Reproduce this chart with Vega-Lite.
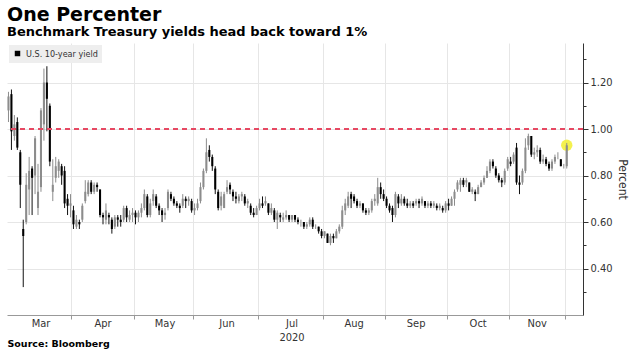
{
  "$schema": "https://vega.github.io/schema/vega-lite/v6.json",
  "width": 576,
  "height": 272,
  "autosize": {"type": "none"},
  "padding": {"left": 7, "top": 43, "right": 48, "bottom": 37},
  "background": "white",
  "config": {"view": {"stroke": null}, "font": "DejaVu Sans"},
  "title": {
    "text": "One Percenter",
    "subtitle": "Benchmark Treasury yields head back toward 1%",
    "anchor": "start",
    "frame": "group",
    "font": "DejaVu Sans",
    "fontSize": 19,
    "fontWeight": "bold",
    "color": "#000000",
    "subtitleFont": "DejaVu Sans",
    "subtitleFontSize": 13,
    "subtitleFontWeight": "bold",
    "subtitleColor": "#000000",
    "subtitlePadding": 1,
    "offset": 4
  },
  "data": {
    "values": [
      {"date": "2020-03-02", "open": 1.08, "high": 1.16, "low": 1.03, "close": 1.14},
      {"date": "2020-03-03", "open": 1.15, "high": 1.17, "low": 0.91, "close": 0.99},
      {"date": "2020-03-04", "open": 0.97, "high": 1.06, "low": 0.95, "close": 1.02},
      {"date": "2020-03-05", "open": 1.03, "high": 1.05, "low": 0.91, "close": 0.92},
      {"date": "2020-03-06", "open": 0.90, "high": 0.91, "low": 0.66, "close": 0.76},
      {"date": "2020-03-09", "open": 0.57, "high": 0.61, "low": 0.32, "close": 0.54},
      {"date": "2020-03-10", "open": 0.60, "high": 0.81, "low": 0.59, "close": 0.76},
      {"date": "2020-03-11", "open": 0.74, "high": 0.88, "low": 0.63, "close": 0.82},
      {"date": "2020-03-12", "open": 0.83, "high": 0.84, "low": 0.63, "close": 0.79},
      {"date": "2020-03-13", "open": 0.80, "high": 0.97, "low": 0.72, "close": 0.96},
      {"date": "2020-03-16", "open": 0.66, "high": 0.85, "low": 0.63, "close": 0.73},
      {"date": "2020-03-17", "open": 0.75, "high": 1.09, "low": 0.73, "close": 1.08},
      {"date": "2020-03-18", "open": 1.02, "high": 1.26, "low": 0.95, "close": 1.20},
      {"date": "2020-03-19", "open": 1.20, "high": 1.27, "low": 0.99, "close": 1.13},
      {"date": "2020-03-20", "open": 1.10, "high": 1.11, "low": 0.84, "close": 0.86},
      {"date": "2020-03-23", "open": 0.73, "high": 0.87, "low": 0.69, "close": 0.76},
      {"date": "2020-03-24", "open": 0.79, "high": 0.88, "low": 0.77, "close": 0.84},
      {"date": "2020-03-25", "open": 0.82, "high": 0.87, "low": 0.79, "close": 0.86},
      {"date": "2020-03-26", "open": 0.84, "high": 0.85, "low": 0.76, "close": 0.80},
      {"date": "2020-03-27", "open": 0.82, "high": 0.84, "low": 0.66, "close": 0.68},
      {"date": "2020-03-30", "open": 0.70, "high": 0.72, "low": 0.63, "close": 0.67},
      {"date": "2020-03-31", "open": 0.67, "high": 0.72, "low": 0.62, "close": 0.68},
      {"date": "2020-04-01", "open": 0.65, "high": 0.67, "low": 0.57, "close": 0.59},
      {"date": "2020-04-02", "open": 0.58, "high": 0.63, "low": 0.57, "close": 0.61},
      {"date": "2020-04-03", "open": 0.60, "high": 0.61, "low": 0.57, "close": 0.59},
      {"date": "2020-04-06", "open": 0.61, "high": 0.68, "low": 0.60, "close": 0.67},
      {"date": "2020-04-07", "open": 0.69, "high": 0.78, "low": 0.68, "close": 0.73},
      {"date": "2020-04-08", "open": 0.72, "high": 0.78, "low": 0.71, "close": 0.77},
      {"date": "2020-04-09", "open": 0.77, "high": 0.78, "low": 0.72, "close": 0.73},
      {"date": "2020-04-13", "open": 0.73, "high": 0.77, "low": 0.72, "close": 0.76},
      {"date": "2020-04-14", "open": 0.76, "high": 0.77, "low": 0.73, "close": 0.75},
      {"date": "2020-04-15", "open": 0.74, "high": 0.74, "low": 0.62, "close": 0.63},
      {"date": "2020-04-16", "open": 0.63, "high": 0.64, "low": 0.59, "close": 0.62},
      {"date": "2020-04-17", "open": 0.61, "high": 0.68, "low": 0.59, "close": 0.65},
      {"date": "2020-04-20", "open": 0.63, "high": 0.64, "low": 0.59, "close": 0.62},
      {"date": "2020-04-21", "open": 0.61, "high": 0.62, "low": 0.55, "close": 0.57},
      {"date": "2020-04-22", "open": 0.58, "high": 0.63, "low": 0.57, "close": 0.62},
      {"date": "2020-04-23", "open": 0.62, "high": 0.63, "low": 0.58, "close": 0.61},
      {"date": "2020-04-24", "open": 0.61, "high": 0.63, "low": 0.58, "close": 0.60},
      {"date": "2020-04-27", "open": 0.61, "high": 0.67, "low": 0.60, "close": 0.66},
      {"date": "2020-04-28", "open": 0.66, "high": 0.67, "low": 0.60, "close": 0.62},
      {"date": "2020-04-29", "open": 0.61, "high": 0.65, "low": 0.60, "close": 0.63},
      {"date": "2020-04-30", "open": 0.63, "high": 0.66, "low": 0.60, "close": 0.64},
      {"date": "2020-05-01", "open": 0.64, "high": 0.65, "low": 0.59, "close": 0.62},
      {"date": "2020-05-04", "open": 0.62, "high": 0.65, "low": 0.60, "close": 0.64},
      {"date": "2020-05-05", "open": 0.64, "high": 0.68, "low": 0.62, "close": 0.66},
      {"date": "2020-05-06", "open": 0.66, "high": 0.74, "low": 0.65, "close": 0.72},
      {"date": "2020-05-07", "open": 0.71, "high": 0.72, "low": 0.62, "close": 0.63},
      {"date": "2020-05-08", "open": 0.63, "high": 0.70, "low": 0.62, "close": 0.68},
      {"date": "2020-05-11", "open": 0.69, "high": 0.74, "low": 0.67, "close": 0.72},
      {"date": "2020-05-12", "open": 0.71, "high": 0.72, "low": 0.66, "close": 0.67},
      {"date": "2020-05-13", "open": 0.67, "high": 0.68, "low": 0.63, "close": 0.65},
      {"date": "2020-05-14", "open": 0.65, "high": 0.66, "low": 0.60, "close": 0.63},
      {"date": "2020-05-15", "open": 0.63, "high": 0.66, "low": 0.61, "close": 0.64},
      {"date": "2020-05-18", "open": 0.66, "high": 0.74, "low": 0.65, "close": 0.73},
      {"date": "2020-05-19", "open": 0.72, "high": 0.73, "low": 0.69, "close": 0.70},
      {"date": "2020-05-20", "open": 0.70, "high": 0.71, "low": 0.67, "close": 0.68},
      {"date": "2020-05-21", "open": 0.68, "high": 0.69, "low": 0.66, "close": 0.67},
      {"date": "2020-05-22", "open": 0.67, "high": 0.68, "low": 0.64, "close": 0.66},
      {"date": "2020-05-26", "open": 0.67, "high": 0.72, "low": 0.66, "close": 0.70},
      {"date": "2020-05-27", "open": 0.70, "high": 0.71, "low": 0.66, "close": 0.69},
      {"date": "2020-05-28", "open": 0.69, "high": 0.71, "low": 0.67, "close": 0.70},
      {"date": "2020-05-29", "open": 0.69, "high": 0.70, "low": 0.64, "close": 0.65},
      {"date": "2020-06-01", "open": 0.65, "high": 0.68, "low": 0.63, "close": 0.66},
      {"date": "2020-06-02", "open": 0.66, "high": 0.70, "low": 0.65, "close": 0.68},
      {"date": "2020-06-03", "open": 0.69, "high": 0.77, "low": 0.68, "close": 0.75},
      {"date": "2020-06-04", "open": 0.75, "high": 0.83, "low": 0.74, "close": 0.82},
      {"date": "2020-06-05", "open": 0.82, "high": 0.96, "low": 0.81, "close": 0.90},
      {"date": "2020-06-08", "open": 0.91, "high": 0.93, "low": 0.86, "close": 0.88},
      {"date": "2020-06-09", "open": 0.88, "high": 0.89, "low": 0.82, "close": 0.84},
      {"date": "2020-06-10", "open": 0.83, "high": 0.84, "low": 0.72, "close": 0.74},
      {"date": "2020-06-11", "open": 0.73, "high": 0.74, "low": 0.65, "close": 0.66},
      {"date": "2020-06-12", "open": 0.67, "high": 0.73, "low": 0.65, "close": 0.71},
      {"date": "2020-06-15", "open": 0.66, "high": 0.73, "low": 0.66, "close": 0.72},
      {"date": "2020-06-16", "open": 0.73, "high": 0.78, "low": 0.72, "close": 0.75},
      {"date": "2020-06-17", "open": 0.76, "high": 0.77, "low": 0.72, "close": 0.74},
      {"date": "2020-06-18", "open": 0.73, "high": 0.74, "low": 0.69, "close": 0.71},
      {"date": "2020-06-19", "open": 0.71, "high": 0.73, "low": 0.68, "close": 0.70},
      {"date": "2020-06-22", "open": 0.69, "high": 0.72, "low": 0.68, "close": 0.71},
      {"date": "2020-06-23", "open": 0.71, "high": 0.73, "low": 0.69, "close": 0.72},
      {"date": "2020-06-24", "open": 0.71, "high": 0.72, "low": 0.67, "close": 0.68},
      {"date": "2020-06-25", "open": 0.68, "high": 0.70, "low": 0.66, "close": 0.69},
      {"date": "2020-06-26", "open": 0.67, "high": 0.68, "low": 0.63, "close": 0.64},
      {"date": "2020-06-29", "open": 0.64, "high": 0.66, "low": 0.62, "close": 0.63},
      {"date": "2020-06-30", "open": 0.63, "high": 0.67, "low": 0.63, "close": 0.66},
      {"date": "2020-07-01", "open": 0.66, "high": 0.70, "low": 0.65, "close": 0.68},
      {"date": "2020-07-02", "open": 0.68, "high": 0.71, "low": 0.66, "close": 0.67},
      {"date": "2020-07-06", "open": 0.68, "high": 0.71, "low": 0.67, "close": 0.69},
      {"date": "2020-07-07", "open": 0.68, "high": 0.68, "low": 0.63, "close": 0.64},
      {"date": "2020-07-08", "open": 0.64, "high": 0.68, "low": 0.63, "close": 0.66},
      {"date": "2020-07-09", "open": 0.65, "high": 0.66, "low": 0.60, "close": 0.61},
      {"date": "2020-07-10", "open": 0.61, "high": 0.65, "low": 0.57, "close": 0.64},
      {"date": "2020-07-13", "open": 0.63, "high": 0.64, "low": 0.60, "close": 0.62},
      {"date": "2020-07-14", "open": 0.61, "high": 0.64, "low": 0.60, "close": 0.62},
      {"date": "2020-07-15", "open": 0.62, "high": 0.65, "low": 0.61, "close": 0.63},
      {"date": "2020-07-16", "open": 0.63, "high": 0.63, "low": 0.60, "close": 0.61},
      {"date": "2020-07-17", "open": 0.61, "high": 0.63, "low": 0.60, "close": 0.63},
      {"date": "2020-07-20", "open": 0.63, "high": 0.63, "low": 0.60, "close": 0.61},
      {"date": "2020-07-21", "open": 0.61, "high": 0.62, "low": 0.59, "close": 0.60},
      {"date": "2020-07-22", "open": 0.60, "high": 0.61, "low": 0.58, "close": 0.60},
      {"date": "2020-07-23", "open": 0.60, "high": 0.60, "low": 0.57, "close": 0.58},
      {"date": "2020-07-24", "open": 0.58, "high": 0.60, "low": 0.57, "close": 0.59},
      {"date": "2020-07-27", "open": 0.59, "high": 0.62, "low": 0.58, "close": 0.61},
      {"date": "2020-07-28", "open": 0.61, "high": 0.62, "low": 0.57, "close": 0.58},
      {"date": "2020-07-29", "open": 0.58, "high": 0.59, "low": 0.57, "close": 0.58},
      {"date": "2020-07-30", "open": 0.58, "high": 0.58, "low": 0.55, "close": 0.56},
      {"date": "2020-07-31", "open": 0.56, "high": 0.57, "low": 0.53, "close": 0.54},
      {"date": "2020-08-03", "open": 0.54, "high": 0.56, "low": 0.53, "close": 0.56},
      {"date": "2020-08-04", "open": 0.55, "high": 0.55, "low": 0.51, "close": 0.51},
      {"date": "2020-08-05", "open": 0.51, "high": 0.55, "low": 0.50, "close": 0.54},
      {"date": "2020-08-06", "open": 0.54, "high": 0.55, "low": 0.51, "close": 0.53},
      {"date": "2020-08-07", "open": 0.53, "high": 0.57, "low": 0.53, "close": 0.56},
      {"date": "2020-08-10", "open": 0.56, "high": 0.59, "low": 0.55, "close": 0.58},
      {"date": "2020-08-11", "open": 0.58, "high": 0.67, "low": 0.57, "close": 0.65},
      {"date": "2020-08-12", "open": 0.65, "high": 0.70, "low": 0.63, "close": 0.68},
      {"date": "2020-08-13", "open": 0.67, "high": 0.73, "low": 0.66, "close": 0.71},
      {"date": "2020-08-14", "open": 0.72, "high": 0.73, "low": 0.66, "close": 0.70},
      {"date": "2020-08-17", "open": 0.71, "high": 0.72, "low": 0.68, "close": 0.69},
      {"date": "2020-08-18", "open": 0.69, "high": 0.70, "low": 0.66, "close": 0.67},
      {"date": "2020-08-19", "open": 0.67, "high": 0.69, "low": 0.66, "close": 0.68},
      {"date": "2020-08-20", "open": 0.68, "high": 0.68, "low": 0.64, "close": 0.65},
      {"date": "2020-08-21", "open": 0.65, "high": 0.66, "low": 0.63, "close": 0.64},
      {"date": "2020-08-24", "open": 0.64, "high": 0.66, "low": 0.63, "close": 0.65},
      {"date": "2020-08-25", "open": 0.65, "high": 0.70, "low": 0.64, "close": 0.69},
      {"date": "2020-08-26", "open": 0.69, "high": 0.72, "low": 0.67, "close": 0.70},
      {"date": "2020-08-27", "open": 0.68, "high": 0.79, "low": 0.67, "close": 0.75},
      {"date": "2020-08-28", "open": 0.75, "high": 0.77, "low": 0.70, "close": 0.72},
      {"date": "2020-08-31", "open": 0.72, "high": 0.74, "low": 0.69, "close": 0.70},
      {"date": "2020-09-01", "open": 0.70, "high": 0.71, "low": 0.66, "close": 0.67},
      {"date": "2020-09-02", "open": 0.67, "high": 0.68, "low": 0.64, "close": 0.65},
      {"date": "2020-09-03", "open": 0.66, "high": 0.67, "low": 0.60, "close": 0.63},
      {"date": "2020-09-04", "open": 0.63, "high": 0.73, "low": 0.62, "close": 0.72},
      {"date": "2020-09-08", "open": 0.71, "high": 0.72, "low": 0.66, "close": 0.68},
      {"date": "2020-09-09", "open": 0.68, "high": 0.72, "low": 0.67, "close": 0.70},
      {"date": "2020-09-10", "open": 0.70, "high": 0.71, "low": 0.67, "close": 0.68},
      {"date": "2020-09-11", "open": 0.68, "high": 0.70, "low": 0.66, "close": 0.67},
      {"date": "2020-09-14", "open": 0.67, "high": 0.69, "low": 0.66, "close": 0.68},
      {"date": "2020-09-15", "open": 0.68, "high": 0.69, "low": 0.66, "close": 0.67},
      {"date": "2020-09-16", "open": 0.68, "high": 0.70, "low": 0.67, "close": 0.69},
      {"date": "2020-09-17", "open": 0.69, "high": 0.70, "low": 0.66, "close": 0.68},
      {"date": "2020-09-18", "open": 0.68, "high": 0.71, "low": 0.67, "close": 0.70},
      {"date": "2020-09-21", "open": 0.69, "high": 0.69, "low": 0.66, "close": 0.67},
      {"date": "2020-09-22", "open": 0.67, "high": 0.69, "low": 0.66, "close": 0.68},
      {"date": "2020-09-23", "open": 0.68, "high": 0.69, "low": 0.66, "close": 0.67},
      {"date": "2020-09-24", "open": 0.67, "high": 0.69, "low": 0.66, "close": 0.68},
      {"date": "2020-09-25", "open": 0.67, "high": 0.68, "low": 0.65, "close": 0.66},
      {"date": "2020-09-28", "open": 0.66, "high": 0.68, "low": 0.65, "close": 0.67},
      {"date": "2020-09-29", "open": 0.66, "high": 0.67, "low": 0.64, "close": 0.65},
      {"date": "2020-09-30", "open": 0.65, "high": 0.69, "low": 0.64, "close": 0.68},
      {"date": "2020-10-01", "open": 0.68, "high": 0.70, "low": 0.65, "close": 0.67},
      {"date": "2020-10-02", "open": 0.67, "high": 0.71, "low": 0.67, "close": 0.70},
      {"date": "2020-10-05", "open": 0.70, "high": 0.74, "low": 0.67, "close": 0.73},
      {"date": "2020-10-06", "open": 0.74, "high": 0.78, "low": 0.73, "close": 0.77},
      {"date": "2020-10-07", "open": 0.76, "high": 0.79, "low": 0.73, "close": 0.78},
      {"date": "2020-10-08", "open": 0.78, "high": 0.79, "low": 0.75, "close": 0.76},
      {"date": "2020-10-09", "open": 0.77, "high": 0.79, "low": 0.75, "close": 0.78},
      {"date": "2020-10-13", "open": 0.77, "high": 0.77, "low": 0.73, "close": 0.73},
      {"date": "2020-10-14", "open": 0.73, "high": 0.75, "low": 0.72, "close": 0.74},
      {"date": "2020-10-15", "open": 0.73, "high": 0.74, "low": 0.69, "close": 0.72},
      {"date": "2020-10-16", "open": 0.72, "high": 0.76, "low": 0.72, "close": 0.75},
      {"date": "2020-10-19", "open": 0.75, "high": 0.78, "low": 0.75, "close": 0.77},
      {"date": "2020-10-20", "open": 0.77, "high": 0.80, "low": 0.76, "close": 0.79},
      {"date": "2020-10-21", "open": 0.79, "high": 0.84, "low": 0.79, "close": 0.82},
      {"date": "2020-10-22", "open": 0.82, "high": 0.87, "low": 0.81, "close": 0.86},
      {"date": "2020-10-23", "open": 0.86, "high": 0.87, "low": 0.83, "close": 0.84},
      {"date": "2020-10-26", "open": 0.83, "high": 0.84, "low": 0.79, "close": 0.80},
      {"date": "2020-10-27", "open": 0.80, "high": 0.81, "low": 0.77, "close": 0.78},
      {"date": "2020-10-28", "open": 0.78, "high": 0.79, "low": 0.75, "close": 0.77},
      {"date": "2020-10-29", "open": 0.77, "high": 0.83, "low": 0.76, "close": 0.82},
      {"date": "2020-10-30", "open": 0.83, "high": 0.88, "low": 0.82, "close": 0.87},
      {"date": "2020-11-02", "open": 0.86, "high": 0.88, "low": 0.84, "close": 0.85},
      {"date": "2020-11-03", "open": 0.86, "high": 0.90, "low": 0.85, "close": 0.89},
      {"date": "2020-11-04", "open": 0.92, "high": 0.94, "low": 0.76, "close": 0.77},
      {"date": "2020-11-05", "open": 0.77, "high": 0.80, "low": 0.72, "close": 0.76},
      {"date": "2020-11-06", "open": 0.77, "high": 0.83, "low": 0.76, "close": 0.82},
      {"date": "2020-11-09", "open": 0.82, "high": 0.96, "low": 0.81, "close": 0.92},
      {"date": "2020-11-10", "open": 0.93, "high": 0.98, "low": 0.91, "close": 0.97},
      {"date": "2020-11-12", "open": 0.97, "high": 0.97, "low": 0.88, "close": 0.89},
      {"date": "2020-11-13", "open": 0.89, "high": 0.92, "low": 0.87, "close": 0.90},
      {"date": "2020-11-16", "open": 0.90, "high": 0.93, "low": 0.88, "close": 0.91},
      {"date": "2020-11-17", "open": 0.91, "high": 0.92, "low": 0.85, "close": 0.86},
      {"date": "2020-11-18", "open": 0.86, "high": 0.89, "low": 0.85, "close": 0.87},
      {"date": "2020-11-19", "open": 0.87, "high": 0.88, "low": 0.84, "close": 0.85},
      {"date": "2020-11-20", "open": 0.85, "high": 0.86, "low": 0.82, "close": 0.83},
      {"date": "2020-11-23", "open": 0.83, "high": 0.87, "low": 0.82, "close": 0.86},
      {"date": "2020-11-24", "open": 0.86, "high": 0.89, "low": 0.85, "close": 0.88},
      {"date": "2020-11-25", "open": 0.88, "high": 0.90, "low": 0.87, "close": 0.88},
      {"date": "2020-11-27", "open": 0.87, "high": 0.87, "low": 0.84, "close": 0.84},
      {"date": "2020-11-30", "open": 0.84, "high": 0.85, "low": 0.83, "close": 0.84},
      {"date": "2020-12-01", "open": 0.84, "high": 0.94, "low": 0.83, "close": 0.93}
    ]
  },
  "resolve": {"axis": {"x": "independent", "y": "independent"}},
  "layer": [
    {
      "transform": [{"filter": "datum.date == '2020-12-01'"}],
      "mark": {"type": "circle", "size": 130, "color": "#f3ef3c", "opacity": 0.9},
      "encoding": {
        "x": {"field": "date", "type": "ordinal", "scale": {"type": "band", "paddingInner": 0, "paddingOuter": 1, "align": 0, "domain": {"unionWith": ["2020-12-02", "2020-12-03", "2020-12-04"]}}, "axis": null},
        "y": {
          "field": "close", "type": "quantitative",
          "scale": {"domain": [0.2, 1.37], "nice": false, "zero": false},
          "axis": {"orient": "right", "values": [0.3, 0.5, 0.7, 0.9, 1.1, 1.3], "labels": false, "ticks": true, "tickSize": 3, "tickColor": "#333333", "domain": false, "grid": false, "title": null}
        }
      }
    },
    {
      "mark": {"type": "rule", "strokeWidth": 1},
      "encoding": {
        "x": {
          "field": "date", "type": "ordinal",
          "scale": {"type": "band", "paddingInner": 0, "paddingOuter": 1, "align": 0, "domain": {"unionWith": ["2020-12-02", "2020-12-03", "2020-12-04"]}},
          "axis": {"orient": "bottom", "values": ["2020-04-01", "2020-05-01", "2020-06-01", "2020-07-01", "2020-08-03", "2020-09-01", "2020-10-01", "2020-11-02", "2020-12-01"], "bandPosition": 0, "labels": false, "grid": true, "gridColor": "#e6e6e6", "ticks": true, "tickSize": 4, "tickColor": "#999999", "domain": true, "domainColor": "#999999", "title": null}
        },
        "y": {
          "field": "low", "type": "quantitative",
          "scale": {"domain": [0.2, 1.37], "nice": false, "zero": false},
          "axis": {"orient": "right", "values": [0.4, 0.6, 0.8, 1.0, 1.2], "format": ".2f", "grid": true, "gridColor": "#e6e6e6", "domain": true, "domainColor": "#333333", "tickColor": "#333333", "tickSize": 5, "labelFontSize": 11, "labelColor": "#333333", "labelFont": "DejaVu Sans Condensed", "labelPadding": 2, "title": "Percent", "titleAngle": 90, "titleFontSize": 12, "titleFontWeight": "normal", "titleColor": "#333333", "titleFont": "DejaVu Sans Condensed", "titlePadding": 3}
        },
        "y2": {"field": "high"},
        "color": {"condition": {"test": "datum.close >= datum.open", "value": "#8c8c8c"}, "value": "#111111"}
      }
    },
    {
      "transform": [{"filter": "datum.close >= datum.open"}],
      "mark": {"type": "bar", "width": {"band": 0.7}, "color": "#8c8c8c"},
      "encoding": {
        "x": {
          "field": "date", "type": "ordinal",
          "scale": {"type": "band", "paddingInner": 0, "paddingOuter": 1, "align": 0, "domain": {"unionWith": ["2020-12-02", "2020-12-03", "2020-12-04"]}},
          "axis": {"orient": "bottom", "values": ["2020-03-17", "2020-04-16", "2020-05-15", "2020-06-16", "2020-07-17", "2020-08-17", "2020-09-16", "2020-10-16", "2020-11-16"], "bandPosition": 0, "labelExpr": "['Jan','Feb','Mar','Apr','May','Jun','Jul','Aug','Sep','Oct','Nov','Dec'][toNumber(slice(datum.value, 5, 7)) - 1]", "labelAngle": 0, "ticks": false, "grid": false, "domain": false, "labelFontSize": 11, "labelColor": "#333333", "labelFont": "DejaVu Sans Condensed", "labelPadding": 2, "title": null}
        },
        "y": {"field": "open", "type": "quantitative", "scale": {"domain": [0.2, 1.37], "nice": false, "zero": false}, "axis": null},
        "y2": {"field": "close"}
      }
    },
    {
      "transform": [{"filter": "datum.close < datum.open"}],
      "mark": {"type": "bar", "width": {"band": 0.7}},
      "encoding": {
        "x": {
          "field": "date", "type": "ordinal",
          "scale": {"type": "band", "paddingInner": 0, "paddingOuter": 1, "align": 0, "domain": {"unionWith": ["2020-12-02", "2020-12-03", "2020-12-04"]}},
          "axis": {"orient": "bottom", "values": ["2020-07-17"], "bandPosition": 0, "labelExpr": "'2020'", "labelAngle": 0, "ticks": false, "grid": false, "domain": false, "labelFontSize": 11, "labelColor": "#333333", "labelFont": "DejaVu Sans Condensed", "labelPadding": 16, "title": "Source: Bloomberg", "titleAnchor": "start", "titleAlign": "left", "titleBaseline": "middle", "titleX": 0, "titleY": 28, "titleFont": "DejaVu Sans", "titleFontSize": 9.5, "titleFontWeight": "bold", "titleColor": "#000000"}
        },
        "y": {"field": "open", "type": "quantitative", "scale": {"domain": [0.2, 1.37], "nice": false, "zero": false}, "axis": null},
        "y2": {"field": "close"},
        "fill": {
          "datum": "U.S. 10-year yield", "type": "nominal",
          "scale": {"range": ["#000000"]},
          "legend": {"title": null, "orient": "top-left", "offset": 2, "fillColor": "#eeeeee", "padding": 4, "symbolType": "square", "symbolSize": 30, "symbolStrokeWidth": 0, "labelFontSize": 9, "labelFont": "DejaVu Sans Condensed", "labelColor": "#333333"}
        }
      }
    },
    {
      "mark": {"type": "rule", "color": "#e64a64", "strokeDash": [5, 4], "strokeWidth": 1},
      "encoding": {
        "y": {"datum": 1.0, "type": "quantitative", "scale": {"domain": [0.2, 1.37], "nice": false, "zero": false}, "axis": null}
      }
    }
  ]
}
